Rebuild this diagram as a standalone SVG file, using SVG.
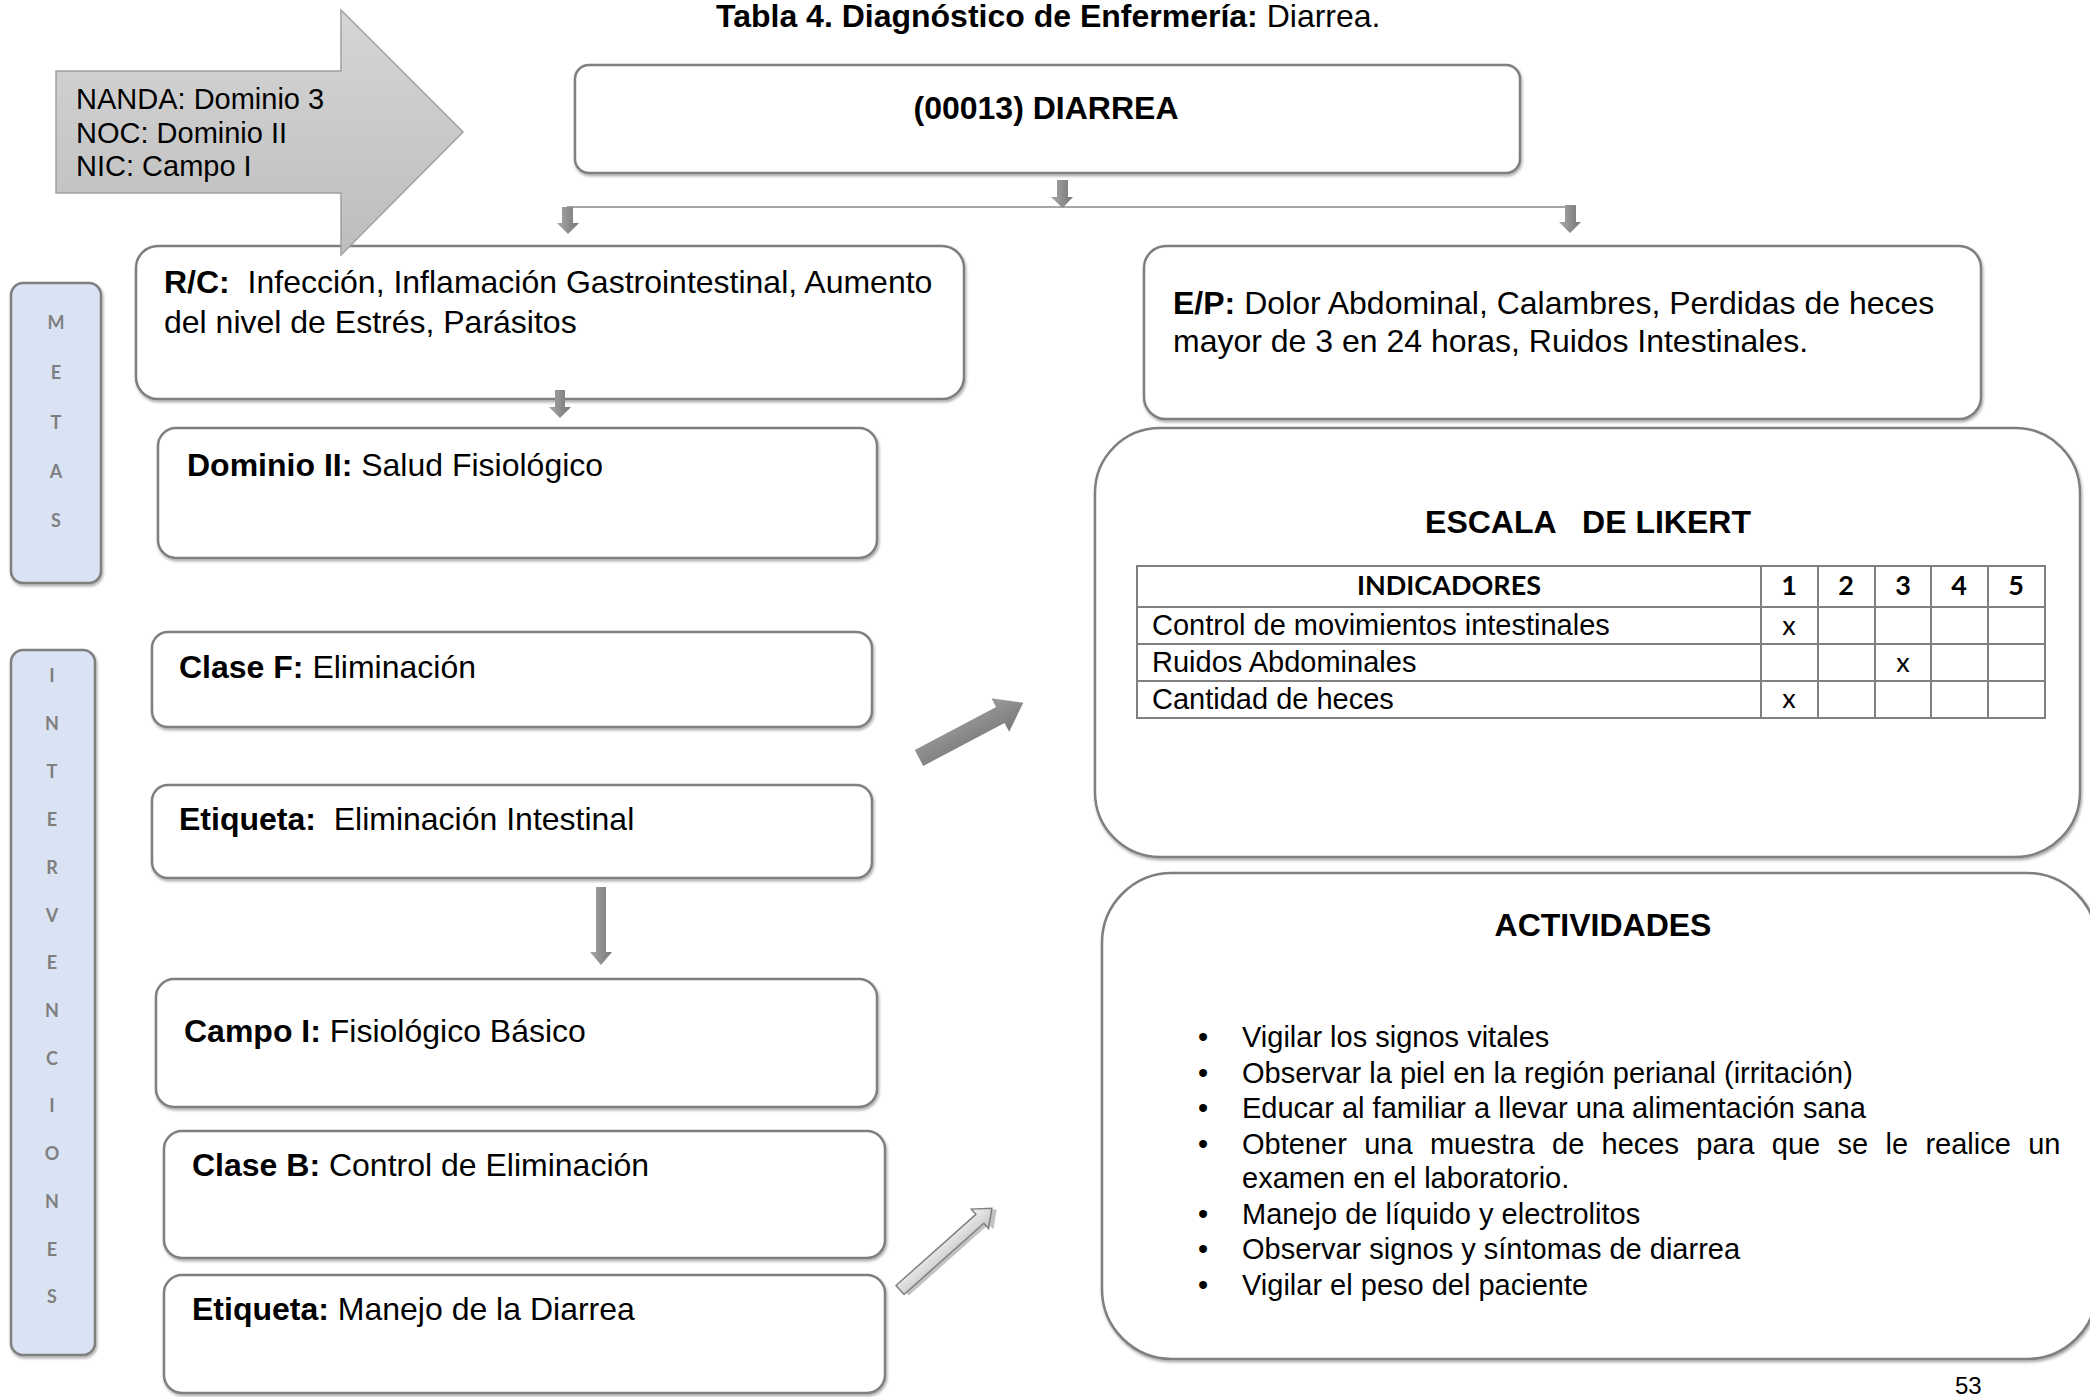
<svg xmlns="http://www.w3.org/2000/svg" width="2090" height="1397" viewBox="0 0 2090 1397">
<defs>
<style>
.t{font-family:"Liberation Sans",Arial,sans-serif;fill:#000}
.b{font-weight:bold}
.s32{font-size:32px}
.s29{font-size:29px}
.box{fill:#fff;stroke:#7f7f7f;stroke-width:2.5}
.side{fill:#dae3f3;stroke:#7f7f7f;stroke-width:2.5}
.lt{font-family:Lato,"Liberation Sans",sans-serif;font-weight:bold;font-size:18px;fill:#7f7f7f;text-anchor:middle}
.cal{font-family:Lato,"Liberation Sans",sans-serif}
.grid{stroke:#7f7f7f;stroke-width:2;fill:none}
.conn{stroke:#a6a6a6;stroke-width:2;fill:none}
.ga{fill:url(#garrow)}
</style>
<linearGradient id="garrow" x1="0" y1="0" x2="1" y2="0">
<stop offset="0" stop-color="#a8a8a8"/><stop offset="1" stop-color="#767676"/>
</linearGradient>
<linearGradient id="gbig" x1="0" y1="0" x2="0" y2="1">
<stop offset="0" stop-color="#d6d6d6"/><stop offset="1" stop-color="#bdbdbd"/>
</linearGradient>
<linearGradient id="gdiag1" x1="0" y1="0" x2="0" y2="1">
<stop offset="0" stop-color="#9a9a9a"/><stop offset="1" stop-color="#7a7a7a"/>
</linearGradient>
<linearGradient id="gdiag2" x1="0" y1="0" x2="0" y2="1">
<stop offset="0" stop-color="#f4f4f4"/><stop offset="1" stop-color="#c4c4c4"/>
</linearGradient>
<filter id="sh" x="-5%" y="-5%" width="110%" height="115%">
<feGaussianBlur in="SourceAlpha" stdDeviation="1.5"/>
<feOffset dx="1" dy="2" result="o"/>
<feComponentTransfer><feFuncA type="linear" slope="0.35"/></feComponentTransfer>
<feMerge><feMergeNode/><feMergeNode in="SourceGraphic"/></feMerge>
</filter>
</defs>
<rect width="2090" height="1397" fill="#fff"/>

<text class="t s32" x="716" y="27"><tspan class="b">Tabla 4. Diagnóstico de Enfermería:</tspan> Diarrea.</text>

<g id="metas">
<rect class="side" x="11" y="283" width="90" height="300" rx="12" filter="url(#sh)"/>
<text class="lt" x="56" y="329">M</text>
<text class="lt" x="56" y="379">E</text>
<text class="lt" x="56" y="429">T</text>
<text class="lt" x="56" y="478">A</text>
<text class="lt" x="56" y="527">S</text>
</g>

<g id="intervenciones">
<rect class="side" x="11" y="650" width="84" height="705" rx="12" filter="url(#sh)"/>
<text class="lt" x="52" y="682">I</text>
<text class="lt" x="52" y="730">N</text>
<text class="lt" x="52" y="778">T</text>
<text class="lt" x="52" y="826">E</text>
<text class="lt" x="52" y="874">R</text>
<text class="lt" x="52" y="922">V</text>
<text class="lt" x="52" y="969">E</text>
<text class="lt" x="52" y="1017">N</text>
<text class="lt" x="52" y="1065">C</text>
<text class="lt" x="52" y="1112">I</text>
<text class="lt" x="52" y="1160">O</text>
<text class="lt" x="52" y="1208">N</text>
<text class="lt" x="52" y="1256">E</text>
<text class="lt" x="52" y="1303">S</text>
</g>

<g id="diarrea">
<rect class="box" x="575" y="65" width="945" height="108" rx="14" filter="url(#sh)"/>
<text class="t s32 b" x="1046" y="119" text-anchor="middle">(00013) DIARREA</text>
</g>

<g id="rc">
<rect class="box" x="136" y="246" width="828" height="153" rx="22" filter="url(#sh)"/>
<text class="t s32" x="164" y="293" xml:space="preserve"><tspan class="b">R/C:</tspan>  Infección, Inflamación Gastrointestinal, Aumento</text>
<text class="t s32" x="164" y="333">del nivel de Estrés, Parásitos</text>
</g>

<g id="nanda">
<path d="M56,71 H341 V10 L463,132 L341,255 V193 H56 Z" fill="url(#gbig)" stroke="#a0a0a0" stroke-width="1.5"/>
<text class="t s29" x="76" y="109">NANDA: Dominio 3</text>
<text class="t s29" x="76" y="143">NOC: Dominio II</text>
<text class="t s29" x="76" y="176">NIC: Campo I</text>
</g>

<g id="ep">
<rect class="box" x="1144" y="246" width="837" height="173" rx="22" filter="url(#sh)"/>
<text class="t s32" x="1173" y="314"><tspan class="b">E/P:</tspan> Dolor Abdominal, Calambres, Perdidas de heces</text>
<text class="t s32" x="1173" y="352">mayor de 3 en 24 horas, Ruidos Intestinales.</text>
</g>

<g id="dominio">
<rect class="box" x="158" y="428" width="719" height="130" rx="18" filter="url(#sh)"/>
<text class="t s32" x="187" y="476"><tspan class="b">Dominio II:</tspan> Salud Fisiológico</text>
</g>

<g id="clasef">
<rect class="box" x="152" y="632" width="720" height="95" rx="16" filter="url(#sh)"/>
<text class="t s32" x="179" y="678"><tspan class="b">Clase F:</tspan> Eliminación</text>
</g>

<g id="etiqueta1">
<rect class="box" x="152" y="785" width="720" height="93" rx="16" filter="url(#sh)"/>
<text class="t s32" x="179" y="830" xml:space="preserve"><tspan class="b">Etiqueta:</tspan>  Eliminación Intestinal</text>
</g>

<g id="campo">
<rect class="box" x="156" y="979" width="721" height="128" rx="18" filter="url(#sh)"/>
<text class="t s32" x="184" y="1042"><tspan class="b">Campo I:</tspan> Fisiológico Básico</text>
</g>

<g id="claseb">
<rect class="box" x="164" y="1131" width="721" height="127" rx="18" filter="url(#sh)"/>
<text class="t s32" x="192" y="1176"><tspan class="b">Clase B:</tspan> Control de Eliminación</text>
</g>

<g id="etiqueta2">
<rect class="box" x="164" y="1275" width="721" height="118" rx="18" filter="url(#sh)"/>
<text class="t s32" x="192" y="1320"><tspan class="b">Etiqueta:</tspan> Manejo de la Diarrea</text>
</g>

<g id="likert">
<rect class="box" x="1095" y="428" width="985" height="429" rx="65" filter="url(#sh)"/>
<text class="t s32 b" x="1588" y="533" text-anchor="middle" xml:space="preserve">ESCALA   DE LIKERT</text>
<rect class="grid" x="1137" y="566" width="908" height="152"/>
<path class="grid" d="M1137,607 H2045 M1137,644 H2045 M1137,681 H2045 M1761,566 V718 M1818,566 V718 M1875,566 V718 M1931,566 V718 M1988,566 V718"/>
<g class="cal" font-weight="bold" font-size="27" text-anchor="middle">
<text x="1449" y="595">INDICADORES</text>
<text x="1789" y="595">1</text>
<text x="1846" y="595">2</text>
<text x="1903" y="595">3</text>
<text x="1959" y="595">4</text>
<text x="2016" y="595">5</text>
</g>
<text class="t s29" x="1152" y="635">Control de movimientos intestinales</text>
<text class="t s29" x="1152" y="672">Ruidos Abdominales</text>
<text class="t s29" x="1152" y="709">Cantidad de heces</text>
<g class="cal" font-size="27" text-anchor="middle">
<text x="1789" y="635">x</text>
<text x="1903" y="672">x</text>
<text x="1789" y="708">x</text>
</g>
</g>

<g id="actividades">
<rect class="box" x="1102" y="873" width="995" height="486" rx="70" filter="url(#sh)"/>
<text class="t s32 b" x="1603" y="936" text-anchor="middle">ACTIVIDADES</text>
<g class="t s29">
<text x="1203" y="1047" text-anchor="middle">•</text>
<text x="1242" y="1047">Vigilar los signos vitales</text>
<text x="1203" y="1083" text-anchor="middle">•</text>
<text x="1242" y="1083">Observar la piel en la región perianal (irritación)</text>
<text x="1203" y="1118" text-anchor="middle">•</text>
<text x="1242" y="1118">Educar al familiar a llevar una alimentación sana</text>
<text x="1203" y="1154" text-anchor="middle">•</text>
<text x="1242" y="1154" word-spacing="9.3">Obtener una muestra de heces para que se le realice un</text>
<text x="1242" y="1188">examen en el laboratorio.</text>
<text x="1203" y="1224" text-anchor="middle">•</text>
<text x="1242" y="1224">Manejo de líquido y electrolitos</text>
<text x="1203" y="1259" text-anchor="middle">•</text>
<text x="1242" y="1259">Observar signos y síntomas de diarrea</text>
<text x="1203" y="1295" text-anchor="middle">•</text>
<text x="1242" y="1295">Vigilar el peso del paciente</text>
</g>
</g>

<g id="connectors">
<path class="conn" d="M567,207 H1576"/>
<polygon class="ga" points="1057,180 1068,180 1068,197 1073,197 1062.5,208 1051,197 1057,197"/>
<polygon class="ga" points="562,207 573,207 573,223 579,223 568,234 557,223 562,223"/>
<polygon class="ga" points="1565,205 1576,205 1576,222 1581,222 1570,233 1559,222 1565,222"/>
<polygon class="ga" points="555,390 565,390 565,407 571,407 560,418 549,407 555,407"/>
<polygon class="ga" points="596,887 606,887 606,952 612,952 601,965 590,952 596,952"/>
<polygon fill="url(#gdiag1)" transform="translate(919,758) rotate(-27.9)" points="0,-9 92,-9 92,-19 118,0 92,19 92,9 0,9"/>
<g transform="translate(900,1290) rotate(-41.7)">
<polygon fill="#9a9a9a" opacity="0.6" transform="translate(3,4)" points="0,-6 107,-6 107,-13 123,0 107,13 107,6 0,6"/>
<polygon fill="url(#gdiag2)" stroke="#808080" stroke-width="1.5" points="0,-6 107,-6 107,-13 123,0 107,13 107,6 0,6"/>
</g>
</g>

<text class="t" font-size="24" x="1955" y="1394">53</text>
</svg>
